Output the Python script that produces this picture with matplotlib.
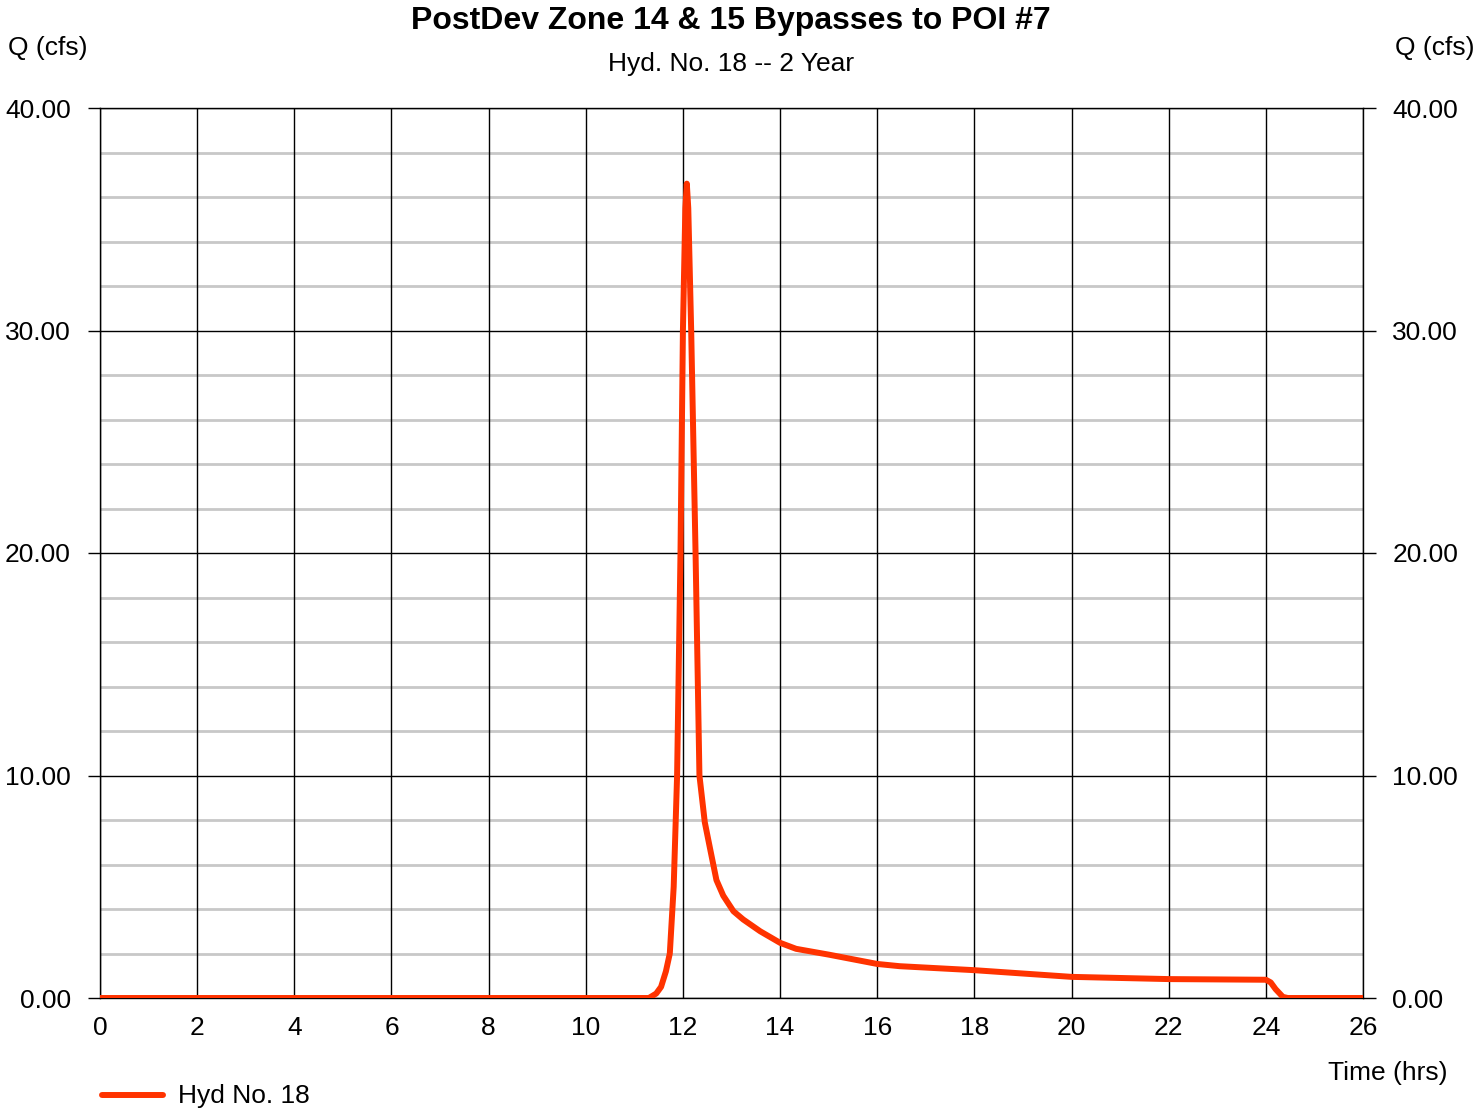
import matplotlib
matplotlib.use("Agg")
import matplotlib.pyplot as plt
from matplotlib.lines import Line2D

plt.rcParams['font.family'] = ['Liberation Sans', 'DejaVu Sans']

title = "PostDev Zone 14 & 15 Bypasses to POI #7"
subtitle = "Hyd. No. 18 -- 2 Year"
series_name = "Hyd No. 18"

time_hrs = [0.0, 11.0, 11.3, 11.45, 11.55, 11.65, 11.73, 11.81, 11.88, 11.95, 12.0,
            12.05, 12.08, 12.11, 12.17, 12.26, 12.34, 12.45, 12.56, 12.69, 12.83,
            13.04, 13.24, 13.59, 14.0, 14.33, 15.0, 16.0, 16.46, 18.0, 20.0, 22.0,
            24.0, 24.1, 24.2, 24.35, 24.45, 26.0]
flow_cfs = [0.0, 0.0, 0.0, 0.2, 0.5, 1.2, 2.0, 5.0, 10.0, 20.0, 30.0,
            35.5, 36.6, 35.5, 30.0, 20.0, 10.0, 7.9, 6.7, 5.3, 4.6,
            3.9, 3.53, 3.0, 2.48, 2.21, 1.95, 1.53, 1.43, 1.25, 0.95, 0.85,
            0.82, 0.7, 0.4, 0.05, 0.0, 0.0]

x_ticks = list(range(0, 27, 2))
y_ticks = [0, 10, 20, 30, 40]

W, H = 1473, 1114
fig = plt.figure(figsize=(W / 100, H / 100), dpi=100)
ax = fig.add_axes([100 / W, (H - 998) / H, 1263 / W, 890 / H])

ax.set_xlim(0, 26)
ax.set_ylim(0, 40)

# grid
for y in range(2, 40, 2):
    if y % 10:
        ax.axhline(y, color='#c8c8c8', lw=2, zorder=1)
for y in y_ticks:
    ax.axhline(y, color='black', lw=1, zorder=1.5)
for x in x_ticks:
    ax.axvline(x, color='black', lw=1, zorder=1.5)

ax.plot(time_hrs, flow_cfs, color='#ff3300', lw=4.3, solid_capstyle='round',
        solid_joinstyle='round', zorder=3, label=series_name)

for s in ax.spines.values():
    s.set_color('black')
    s.set_linewidth(1)

ax.set_xticks(x_ticks)
ax.set_xticklabels([str(x) for x in x_ticks])
ax.set_yticks(y_ticks)
ax.set_yticklabels([f"{y:.2f}" for y in y_ticks])
ax.tick_params(axis='x', length=0, pad=13, labelsize=19)
ax.tick_params(axis='y', length=9, width=1, pad=12, labelsize=19,
               left=True, right=True, labelleft=True, labelright=True)

fig.text(731 / W, 1 - 21 / H, title, ha='center', va='center',
         fontsize=23, fontweight='bold')
fig.text(731 / W, 1 - 64 / H, subtitle, ha='center', va='center', fontsize=19)
fig.text(8 / W, 1 - 48 / H, "Q (cfs)", ha='left', va='center', fontsize=19)
fig.text(1395 / W, 1 - 48 / H, "Q (cfs)", ha='left', va='center', fontsize=19)
fig.text(1448 / W, 1 - 1073 / H, "Time (hrs)", ha='right', va='center', fontsize=19)

# legend
fig.add_artist(Line2D([102 / W, 163 / W], [1 - 1095 / H, 1 - 1095 / H],
                      color='#ff3300', lw=4.3, solid_capstyle='round'))
fig.text(178 / W, 1 - 1096 / H, series_name, ha='left', va='center', fontsize=19)

fig.savefig("out.png", dpi=100)
